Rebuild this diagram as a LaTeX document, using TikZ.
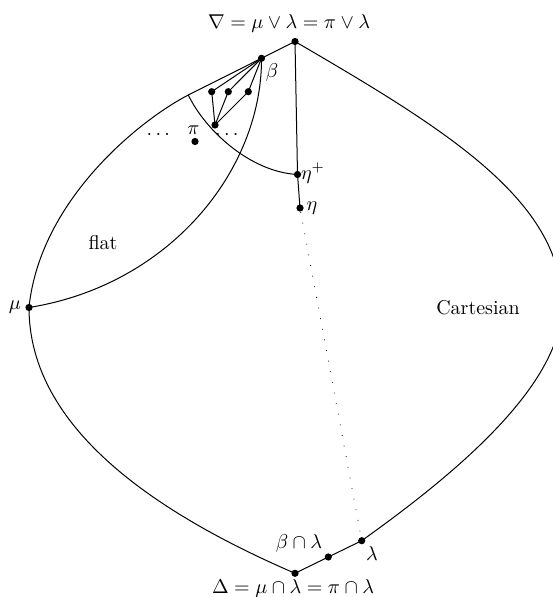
\documentclass[tikz,border=0pt]{standalone}
\usepackage{amsmath,amssymb}
\begin{document}
\begin{tikzpicture}[x=0.5pt,y=-0.5pt,line width=0.5pt,
  pt/.style={circle,fill,inner sep=0pt,minimum size=3.6pt},
  sparse/.style={line width=0.4pt,dash pattern=on 0.4pt off 5pt}]
\useasboundingbox (0,0) rectangle (552,597);
% points of the lattice
\node[pt] (top) at (295,41.5) {};
\node[pt] (b) at (261.5,58.3) {};
\node[pt] (a1) at (211.7,91.7) {};
\node[pt] (a2) at (228.3,91.7) {};
\node[pt] (a3) at (248.3,91.7) {};
\node[pt] (bot) at (215,125) {};
\node[pt] (pi) at (195,141.5) {};
\node[pt] (etap) at (297.5,174.5) {};
\node[pt] (eta) at (300,208) {};
\node[pt] (mu) at (29,307.5) {};
\node[pt] (del) at (295,573.3) {};
\node[pt] (bl) at (328.3,557) {};
\node[pt] (lam) at (361.7,540.7) {};
\coordinate (tl) at (188.3,95);
% outline
\draw (top.center) -- (b.center) -- (tl)
  .. controls (140,120) and (40,200) .. (mu.center)
  .. controls (29,430) and (160,515) .. (del.center)
  -- (bl.center) -- (lam.center)
  .. controls (441.7,483.4) and (562,390) .. (562,305)
  .. controls (562,200) and (445,129) .. (top.center);
\draw (tl) .. controls (205,130) and (250,172) .. (etap.center);
\draw (b.center) .. controls (262,170) and (170,285) .. (mu.center);
\draw (top.center) -- (etap.center) -- (eta.center);
\draw[sparse] (eta) -- (lam);
\foreach \n in {a1,a2,a3}
  \draw (b.center) -- (\n.center) -- (bot.center);
% labels
\node (toplbl) at (289,24) {$\nabla=\mu\vee\lambda=\pi\vee\lambda$};
\node (dellbl) at (293,588) {$\Delta=\mu\cap\lambda=\pi\cap\lambda$};
\node (mulbl) at (15,307.5) {$\mu$};
\node (blbl) at (272,73) {$\beta$};
\node (etaplbl) at (313,173) {$\eta^+$};
\node (etalbl) at (312,208) {$\eta$};
\node (pilbl) at (193.5,130) {$\pi$};
\node (ldots) at (160,135) {$\cdots$};
\node (rdots) at (228.5,135) {$\cdots$};
\node (flat) at (103,243) {flat};
\node (cart) at (478,308) {Cartesian};
\node (bllbl) at (299,543) {$\beta\cap\lambda$};
\node (lamlbl) at (372,554) {$\lambda$};
\end{tikzpicture}
\end{document}
